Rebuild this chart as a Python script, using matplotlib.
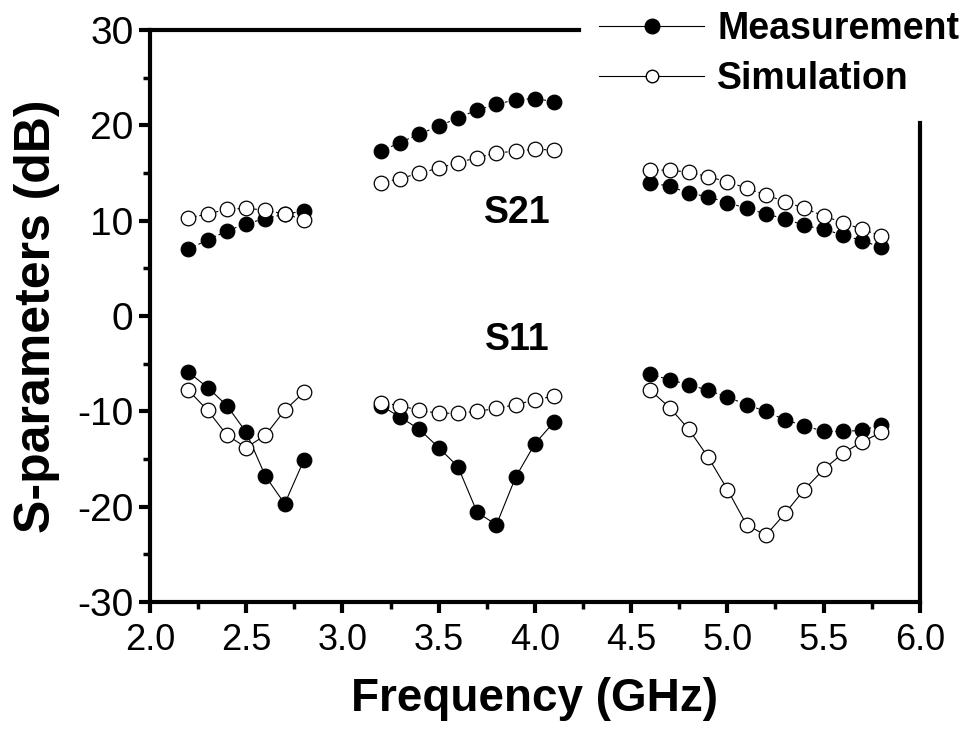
import matplotlib
matplotlib.use("Agg")
import matplotlib.pyplot as plt
from matplotlib.lines import Line2D
from matplotlib.ticker import MultipleLocator

plt.rcParams['font.family'] = ['Liberation Sans', 'DejaVu Sans']
plt.rcParams['axes.unicode_minus'] = False

# frequency points (GHz) of the three bands
freq_b1 = [2.2, 2.3, 2.4, 2.5, 2.6, 2.7, 2.8]
freq_b2 = [3.2, 3.3, 3.4, 3.5, 3.6, 3.7, 3.8, 3.9, 4.0, 4.1]
freq_b3 = [4.6, 4.7, 4.8, 4.9, 5.0, 5.1, 5.2, 5.3, 5.4, 5.5, 5.6, 5.7, 5.8]

# S21 (dB)
s21_meas_b1 = [7.0, 8.0, 8.9, 9.7, 10.2, 10.7, 11.0]
s21_sim_b1 = [10.3, 10.7, 11.2, 11.3, 11.1, 10.7, 10.1]
s21_meas_b2 = [17.3, 18.2, 19.1, 19.9, 20.8, 21.6, 22.2, 22.7, 22.8, 22.5]
s21_sim_b2 = [14.0, 14.4, 15.0, 15.5, 16.1, 16.6, 17.1, 17.3, 17.5, 17.4]
s21_meas_b3 = [14.0, 13.6, 12.9, 12.5, 11.9, 11.3, 10.7, 10.2, 9.5, 9.1, 8.5, 7.9, 7.2]
s21_sim_b3 = [15.3, 15.3, 15.1, 14.6, 14.1, 13.4, 12.7, 12.0, 11.3, 10.5, 9.8, 9.1, 8.4]

# S11 (dB)
s11_meas_b1 = [-5.9, -7.5, -9.4, -12.2, -16.8, -19.7, -15.1]
s11_sim_b1 = [-7.8, -9.9, -12.5, -13.8, -12.5, -9.9, -8.0]
s11_meas_b2 = [-9.4, -10.6, -11.9, -13.8, -15.8, -20.6, -21.9, -16.9, -13.4, -11.1]
s11_sim_b2 = [-9.1, -9.4, -9.9, -10.2, -10.2, -10.0, -9.7, -9.3, -8.8, -8.4]
s11_meas_b3 = [-6.1, -6.7, -7.2, -7.8, -8.5, -9.3, -10.0, -10.9, -11.5, -12.1, -12.1, -12.0, -11.4]
s11_sim_b3 = [-7.8, -9.6, -11.9, -14.8, -18.2, -21.9, -23.0, -20.7, -18.2, -16.1, -14.4, -13.2, -12.2]

labels = ['Measurement', 'Simulation']

DOT = (0, (2.5, 2.5))


def plot_series(ax, x, y, filled, ls):
    face = 'black' if filled else 'white'
    ax.plot(x, y, color='black', linestyle=ls, linewidth=0.8,
            marker='o', markersize=10.5, markerfacecolor=face,
            markeredgecolor='black', markeredgewidth=0.9)


fig = plt.figure(figsize=(9.77, 7.38), dpi=100)
ax = fig.add_axes([0.1535, 0.1843, 0.788, 0.775])

# band 1
plot_series(ax, freq_b1, s21_meas_b1, True, DOT)
plot_series(ax, freq_b1, s21_sim_b1, False, DOT)
plot_series(ax, freq_b1, s11_meas_b1, True, '-')
plot_series(ax, freq_b1, s11_sim_b1, False, '-')
# band 2
plot_series(ax, freq_b2, s21_meas_b2, True, DOT)
plot_series(ax, freq_b2, s21_sim_b2, False, DOT)
plot_series(ax, freq_b2, s11_meas_b2, True, '-')
plot_series(ax, freq_b2, s11_sim_b2, False, DOT)
# band 3
plot_series(ax, freq_b3, s21_meas_b3, True, DOT)
plot_series(ax, freq_b3, s21_sim_b3, False, DOT)
plot_series(ax, freq_b3, s11_meas_b3, True, DOT)
plot_series(ax, freq_b3, s11_sim_b3, False, '-')

ax.set_xlim(2.0, 6.0)
ax.set_ylim(-30, 30)
ax.xaxis.set_major_locator(MultipleLocator(0.5))
ax.xaxis.set_minor_locator(MultipleLocator(0.25))
ax.yaxis.set_major_locator(MultipleLocator(10))
ax.yaxis.set_minor_locator(MultipleLocator(5))
ax.xaxis.set_major_formatter(plt.FormatStrFormatter('%.1f'))

for s in ax.spines.values():
    s.set_linewidth(3)
# legend sits over the top-right corner of the frame
ax.spines['top'].set_bounds(2.0, 4.23)
ax.spines['right'].set_bounds(-30, 20.2)

ax.tick_params(which='major', direction='out', length=8, width=3,
               top=False, right=False)
ax.tick_params(axis='x', which='major', pad=7, labelsize=26)
ax.tick_params(axis='y', which='major', pad=4, labelsize=28)
ax.tick_params(which='minor', direction='out', length=5, width=2.5,
               top=False, right=False)

ax.set_xlabel('Frequency (GHz)', fontsize=33, fontweight='bold', labelpad=14)
ax.set_ylabel('S-parameters (dB)', fontsize=36, fontweight='bold', labelpad=12)

ax.text(3.91, 10.8, 'S21', fontsize=27, fontweight='bold', ha='center', va='center')
ax.text(3.91, -2.5, 'S11', fontsize=27, fontweight='bold', ha='center', va='center')

handles = [
    Line2D([], [], color='black', linewidth=0.8, marker='o', markersize=10.5,
           markerfacecolor='black', markeredgecolor='black'),
    Line2D([], [], color='black', linewidth=0.8, marker='o', markersize=9,
           markerfacecolor='white', markeredgecolor='black'),
]
leg = fig.legend(handles, labels, loc='upper right', bbox_to_anchor=(1.005, 1.016),
                 frameon=False, handlelength=2.8, handletextpad=0.35,
                 labelspacing=0.38, borderpad=0.1,
                 prop={'size': 27, 'weight': 'bold'})

fig.savefig('out.png', dpi=100)
